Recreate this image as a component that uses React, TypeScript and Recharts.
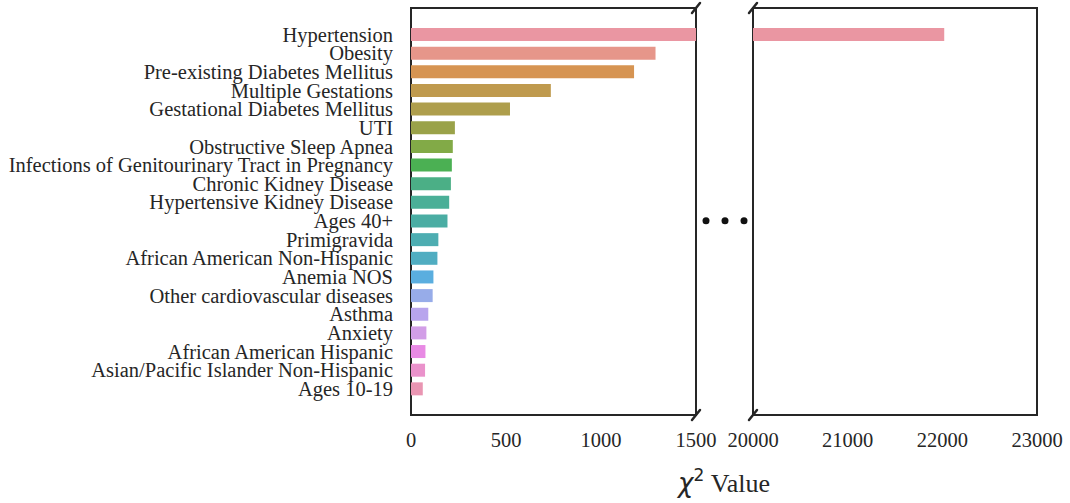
import React from 'react';
import { BarChart, Bar, XAxis, YAxis, Cell, ReferenceArea } from 'recharts';

const categories = [
    'Hypertension',
    'Obesity',
    'Pre-existing Diabetes Mellitus',
    'Multiple Gestations',
    'Gestational Diabetes Mellitus',
    'UTI',
    'Obstructive Sleep Apnea',
    'Infections of Genitourinary Tract in Pregnancy',
    'Chronic Kidney Disease',
    'Hypertensive Kidney Disease',
    'Ages 40+',
    'Primigravida',
    'African American Non-Hispanic',
    'Anemia NOS',
    'Other cardiovascular diseases',
    'Asthma',
    'Anxiety',
    'African American Hispanic',
    'Asian/Pacific Islander Non-Hispanic',
    'Ages 10-19',
];

const chiSquare = [22020, 1287, 1174, 736, 521, 231, 220, 215, 210, 201, 192, 144, 139, 118, 114, 91, 81, 76, 74, 62];

const barColors = [
    '#ea96a2', '#e6968a', '#d69452', '#bf9a4e', '#ae9e4c',
    '#9aa249', '#82aa47', '#4bb053', '#4baf86', '#4aaf97',
    '#4aada3', '#4dadb1', '#50adc1', '#5aaedf', '#97ace9',
    '#b8a5ed', '#d29ee7', '#e88ae4', '#ea92cb', '#e995b2',
];

const leftTicks = [0, 500, 1000, 1500];
const rightTicks = [20000, 21000, 22000, 23000];
const BREAK_AT = 1500;

const PAD = 17;
const INK = '#262626';
const SERIF = 'Liberation Serif';
const tickStyle = { fill: INK, fontSize: 20.5, fontFamily: SERIF };

const data = categories.map((name, i) => ({
    name,
    value: chiSquare[i],
    upper: chiSquare[i] > BREAK_AT ? chiSquare[i] : null,
}));

const slash = (cx: number, cy: number) => (
    <path d={`M ${cx - 4} ${cy + 5} L ${cx + 4} ${cy - 5}`} stroke={INK} strokeWidth={2.5} strokeLinecap="round" fill="none" />
);

// frame + break marks on the right side, plus the "..." gap
const LeftFrame = (p: any) => {
    const { x, y, width, height } = p;
    const top = y - PAD;
    const bottom = y + height + PAD;
    const dotY = top + (bottom - top) * 0.523;
    return (
        <g>
            <rect x={x} y={top} width={width} height={bottom - top} fill="none" stroke={INK} strokeWidth={2} />
            {slash(x + width, top)}
            {slash(x + width, bottom)}
            <circle cx={x + width + 10} cy={dotY} r={3.5} fill="#111" />
            <circle cx={x + width + 29} cy={dotY} r={3.5} fill="#111" />
            <circle cx={x + width + 48} cy={dotY} r={3.5} fill="#111" />
        </g>
    );
};

const RightFrame = (p: any) => {
    const { x, y, width, height } = p;
    const top = y - PAD;
    const bottom = y + height + PAD;
    return (
        <g>
            <rect x={x} y={top} width={width} height={bottom - top} fill="none" stroke={INK} strokeWidth={2} />
            {slash(x, top)}
            {slash(x, bottom)}
        </g>
    );
};

const App: React.FC = () => {
    return (
        <div style={{ position: 'absolute', left: 0, top: 0, width: 1070, height: 503, background: '#fff' }}>
            <div style={{ position: 'absolute', left: 0, top: 0 }}>
                <BarChart width={760} height={503} data={data} layout="vertical" margin={{ top: 8, right: 64, bottom: 48, left: 0 }}>
                    <XAxis
                        type="number"
                        domain={[0, 1500]}
                        ticks={leftTicks}
                        allowDataOverflow
                        axisLine={false}
                        tickLine={false}
                        tickSize={6}
                        tickMargin={11}
                        height={40}
                        tick={tickStyle}
                    />
                    <YAxis
                        type="category"
                        dataKey="name"
                        width={411}
                        interval={0}
                        axisLine={false}
                        tickLine={false}
                        tickSize={6}
                        tickMargin={12}
                        padding={{ top: PAD, bottom: PAD }}
                        tick={tickStyle}
                    />
                    <Bar dataKey="value" barSize={13} isAnimationActive={false}>
                        {data.map((d, i) => (
                            <Cell key={d.name} fill={barColors[i]} />
                        ))}
                    </Bar>
                    <ReferenceArea x1={0} x2={1500} ifOverflow="visible" shape={LeftFrame} />
                </BarChart>
            </div>
            <div style={{ position: 'absolute', left: 700, top: 0 }}>
                <BarChart width={370} height={503} data={data} layout="vertical" margin={{ top: 8, right: 33, bottom: 48, left: 53 }}>
                    <XAxis
                        type="number"
                        domain={[20000, 23000]}
                        ticks={rightTicks}
                        allowDataOverflow
                        axisLine={false}
                        tickLine={false}
                        tickSize={6}
                        tickMargin={11}
                        height={40}
                        tick={tickStyle}
                    />
                    <YAxis type="category" dataKey="name" hide padding={{ top: PAD, bottom: PAD }} />
                    <Bar dataKey="upper" barSize={13} isAnimationActive={false}>
                        {data.map((d, i) => (
                            <Cell key={d.name} fill={barColors[i]} />
                        ))}
                    </Bar>
                    <ReferenceArea x1={20000} x2={23000} ifOverflow="visible" shape={RightFrame} />
                </BarChart>
            </div>
            <svg width={1070} height={503} style={{ position: 'absolute', left: 0, top: 0, pointerEvents: 'none' }}>
                <text x={724} y={492} textAnchor="middle" fontSize={26} fill={INK} fontFamily={SERIF}>
                    <tspan fontFamily="DejaVu Sans" fontStyle="italic">χ</tspan>
                    <tspan dy={-11} fontSize={17} fontFamily="DejaVu Sans">2</tspan>
                    <tspan dy={11}> Value</tspan>
                </text>
            </svg>
        </div>
    );
};

export default App;
